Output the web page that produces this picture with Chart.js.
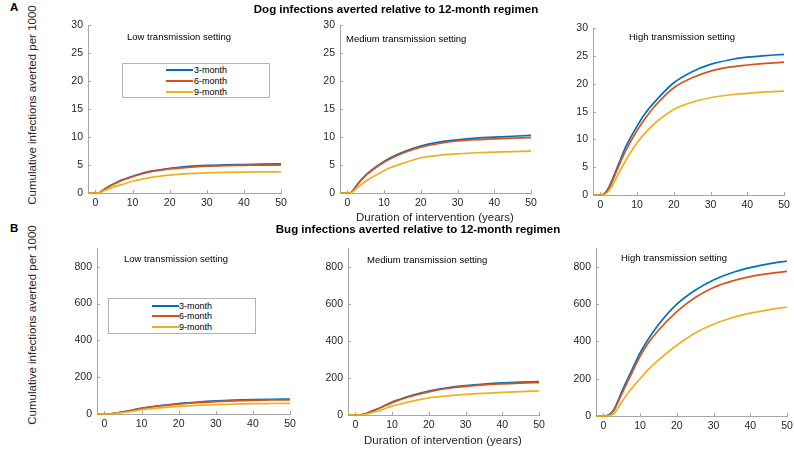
<!DOCTYPE html>
<html>
<head>
<meta charset="utf-8">
<script src="https://cdn.jsdelivr.net/npm/chart.js@4.4.1/dist/chart.umd.min.js"></script>
<style>
  html, body { margin: 0; padding: 0; background: #fff; }
  body { width: 794px; height: 449px; position: relative; overflow: hidden;
         font-family: "Liberation Sans", Arial, Helvetica, sans-serif; color: #262626; }
  canvas { position: absolute; }
  .txt { position: absolute; white-space: nowrap; line-height: 1; }
  .panel-letter { font-weight: bold; font-size: 11.5px; color: #000; }
  .suptitle { font-weight: bold; font-size: 11.5px; color: #000; transform: translate(-50%, -50%); }
  .axlabel { font-size: 11.5px; transform: translate(-50%, -50%); }
  .ylabel { font-size: 11.5px; transform: translate(-50%, -50%) rotate(-90deg); }
  .note { font-size: 9.5px; color: #000; transform: translateY(-50%); }
  .legend { position: absolute; border: 1px solid #b3b3b3; box-sizing: border-box; background: #fff; }
  .legend .row { position: absolute; height: 0; }
  .legend .swatch { position: absolute; height: 2px; width: 27px; top: -1px; }
  .legend .lab { position: absolute; font-size: 9px; color: #000; transform: translateY(-50%); white-space: nowrap; line-height: 1; }
</style>
</head>
<body>

<script>
// x values (years of intervention)
const years = [-2, 0, 1, 2, 3, 5, 7, 10, 12, 15, 20, 25, 30, 35, 40, 45, 50];

// Dog infections averted per 1000
const dogLow3  = [0, 0, 0.05, 0.5, 0.95, 1.65, 2.3, 3.0, 3.4, 3.9, 4.4, 4.75, 4.95, 5.05, 5.1, 5.15, 5.2];
const dogLow6  = [0, 0, 0.03, 0.45, 0.9, 1.6, 2.2, 2.9, 3.3, 3.8, 4.3, 4.6, 4.8, 4.9, 4.95, 5.0, 5.0];
const dogLow9  = [0, 0, 0.02, 0.3, 0.6, 1.1, 1.5, 2.1, 2.4, 2.8, 3.2, 3.45, 3.6, 3.7, 3.75, 3.78, 3.8];
const dogMed3  = [0, 0, 0.1, 0.9, 1.8, 3.2, 4.3, 5.65, 6.4, 7.3, 8.4, 9.1, 9.5, 9.8, 10.0, 10.15, 10.3];
const dogMed6  = [0, 0, 0.08, 0.8, 1.7, 3.1, 4.2, 5.5, 6.2, 7.1, 8.2, 8.85, 9.3, 9.55, 9.7, 9.8, 9.9];
const dogMed9  = [0, 0, 0.05, 0.5, 1.1, 2.1, 2.9, 4.0, 4.6, 5.3, 6.3, 6.75, 7.0, 7.2, 7.3, 7.4, 7.5];
const dogHigh3 = [0, 0, 0.2, 1.0, 2.4, 5.6, 8.8, 12.4, 14.5, 16.9, 20.2, 22.2, 23.5, 24.3, 24.8, 25.1, 25.3];
const dogHigh6 = [0, 0, 0.15, 0.8, 2.1, 5.2, 8.1, 11.6, 13.6, 16.1, 19.3, 21.1, 22.3, 23.0, 23.4, 23.7, 23.9];
const dogHigh9 = [0, 0, 0.05, 0.5, 1.4, 3.9, 6.3, 9.4, 11.0, 13.0, 15.4, 16.7, 17.5, 18.0, 18.3, 18.55, 18.7];

// Bug infections averted per 1000
const bugLow3  = [0, 0, 0, 2, 5, 12, 19, 32, 38, 46, 57, 65, 71, 75, 78, 80, 81];
const bugLow6  = [0, 0, 0, 2, 4, 11, 18, 30, 36, 44, 54, 62, 67, 71, 74, 76, 77];
const bugLow9  = [0, 0, 0, 1, 3, 8, 13, 23, 27, 33, 41, 47, 51, 54, 56, 57, 58];
const bugMed3  = [0, 0, 0, 3, 9, 25, 42, 70, 84, 104, 129, 147, 159, 167, 173, 177, 180];
const bugMed6  = [0, 0, 0, 2, 8, 23, 40, 67, 81, 100, 125, 143, 155, 163, 168, 172, 175];
const bugMed9  = [0, 0, 0, 1, 5, 15, 27, 48, 58, 72, 92, 103, 111, 117, 122, 126, 130];
const bugHigh3 = [0, 0, 2, 14, 40, 130, 215, 338, 405, 490, 600, 675, 730, 769, 796, 816, 832];
const bugHigh6 = [0, 0, 1, 11, 34, 118, 200, 320, 385, 460, 560, 636, 690, 724, 748, 764, 776];
const bugHigh9 = [0, 0, 0, 4, 15, 75, 130, 200, 245, 300, 380, 445, 492, 527, 552, 570, 585];

const seriesNames = ['3-month', '6-month', '9-month'];
const xTicks = [0, 10, 20, 30, 40, 50];
const dogTicks = [0, 5, 10, 15, 20, 25, 30];
const bugTicks = [0, 200, 400, 600, 800];

const colors = ['#0072BD', '#D95319', '#EDB120'];
const axisColor = '#a6a6a6';
const Wy = 40, Hx = 30, padTop = 10, padRight = 14;

Chart.defaults.font.family = '"Liberation Sans", Arial, Helvetica, sans-serif';
Chart.defaults.color = '#262626';

// MATLAB style ticks pointing inwards
const innerTicks = {
  id: 'innerTicks',
  beforeDatasetsDraw(chart) {
    const {ctx, chartArea: a, scales: {x, y}} = chart;
    ctx.save();
    ctx.strokeStyle = axisColor;
    ctx.lineWidth = 1;
    ctx.beginPath();
    x.ticks.forEach(t => {
      const px = Math.round(x.getPixelForValue(t.value)) + 0.5;
      ctx.moveTo(px, a.bottom);
      ctx.lineTo(px, a.bottom - 3);
    });
    y.ticks.forEach(t => {
      const py = Math.round(y.getPixelForValue(t.value)) + 0.5;
      ctx.moveTo(a.left, py);
      ctx.lineTo(a.left + 3, py);
    });
    ctx.stroke();
    ctx.restore();
  }
};

function makePanel(rect, series, yMax, yTicks) {
  const canvas = document.createElement('canvas');
  const w = Wy + (rect.r - rect.l) + padRight;
  const h = padTop + (rect.b - rect.t) + Hx;
  canvas.width = w;
  canvas.height = h;
  canvas.style.left = (rect.l - Wy) + 'px';
  canvas.style.top = (rect.t - padTop) + 'px';
  canvas.style.width = w + 'px';
  canvas.style.height = h + 'px';
  document.body.appendChild(canvas);

  const datasets = series.map((vals, i) => ({
    label: seriesNames[i],
    data: years.map((x, j) => ({x: x, y: vals[j]})),
    borderColor: colors[i],
    borderWidth: 1.7,
    pointRadius: 0,
    cubicInterpolationMode: 'monotone',
    clip: false,
    order: 3 - i
  }));

  new Chart(canvas, {
    type: 'line',
    data: {datasets: datasets},
    options: {
      responsive: false,
      animation: false,
      events: [],
      layout: {padding: {top: padTop, right: padRight, left: 0, bottom: 0}},
      plugins: {legend: {display: false}, tooltip: {enabled: false}},
      scales: {
        x: {
          type: 'linear', min: -2, max: 50,
          afterBuildTicks: s => { s.ticks = xTicks.map(v => ({value: v})); },
          afterFit: s => { s.height = Hx; },
          grid: {display: false, drawTicks: false},
          border: {display: true, color: axisColor, width: 1},
          ticks: {font: {size: 10.5}, padding: 4, maxRotation: 0, autoSkip: false}
        },
        y: {
          type: 'linear', min: 0, max: yMax,
          afterBuildTicks: s => { s.ticks = yTicks.map(v => ({value: v})); },
          afterFit: s => { s.width = Wy; },
          grid: {display: false, drawTicks: false},
          border: {display: true, color: axisColor, width: 1},
          ticks: {font: {size: 10.5}, padding: 5}
        }
      }
    },
    plugins: [innerTicks]
  });
}

makePanel({l: 88,  r: 281, t: 24,  b: 193}, [dogLow3, dogLow6, dogLow9], 30, dogTicks);
makePanel({l: 340, r: 531, t: 24,  b: 193}, [dogMed3, dogMed6, dogMed9], 30, dogTicks);
makePanel({l: 593, r: 784, t: 27,  b: 195}, [dogHigh3, dogHigh6, dogHigh9], 30, dogTicks);
makePanel({l: 97,  r: 290, t: 247, b: 414}, [bugLow3, bugLow6, bugLow9], 900, bugTicks);
makePanel({l: 348, r: 539, t: 247, b: 415}, [bugMed3, bugMed6, bugMed9], 900, bugTicks);
makePanel({l: 596, r: 787, t: 247, b: 416}, [bugHigh3, bugHigh6, bugHigh9], 900, bugTicks);

// text and legends
function addText(cls, text, x, y) {
  const d = document.createElement('div');
  d.className = 'txt ' + cls;
  d.textContent = text;
  d.style.left = x + 'px';
  d.style.top = y + 'px';
  document.body.appendChild(d);
}

function addLegend(box, lineX, textX, rowsY) {
  const lg = document.createElement('div');
  lg.className = 'legend';
  lg.style.left = box.l + 'px';
  lg.style.top = box.t + 'px';
  lg.style.width = (box.r - box.l) + 'px';
  lg.style.height = (box.b - box.t) + 'px';
  seriesNames.forEach((name, i) => {
    const row = document.createElement('div');
    row.className = 'row';
    row.style.top = (rowsY[i] - box.t - 1) + 'px';
    const sw = document.createElement('div');
    sw.className = 'swatch';
    sw.style.left = (lineX - box.l - 1) + 'px';
    sw.style.background = colors[i];
    const lab = document.createElement('div');
    lab.className = 'lab';
    lab.style.left = (textX - box.l - 1) + 'px';
    lab.textContent = name;
    row.appendChild(sw);
    row.appendChild(lab);
    lg.appendChild(row);
  });
  document.body.appendChild(lg);
}

addText('panel-letter', 'A', 10, 2);
addText('panel-letter', 'B', 10, 223);
addText('suptitle', 'Dog infections averted relative to 12-month regimen', 396, 10);
addText('suptitle', 'Bug infections averted relative to 12-month regimen', 418, 230);
addText('ylabel', 'Cumulative infections averted per 1000', 33, 105);
addText('ylabel', 'Cumulative infections averted per 1000', 33, 325);
addText('axlabel', 'Duration of intervention (years)', 435, 218);
addText('axlabel', 'Duration of intervention (years)', 443, 441);

addText('note', 'Low transmission setting', 127, 37);
addText('note', 'Medium transmission setting', 346, 39);
addText('note', 'High transmission setting', 629, 37);
addText('note', 'Low transmission setting', 124, 259);
addText('note', 'Medium transmission setting', 367, 260);
addText('note', 'High transmission setting', 621, 258);

addLegend({l: 122, r: 270, t: 63, b: 98}, 166, 194, [70, 81, 92]);
addLegend({l: 108, r: 256, t: 298, b: 334}, 152, 179, [306, 316, 327]);
</script>
</body>
</html>
